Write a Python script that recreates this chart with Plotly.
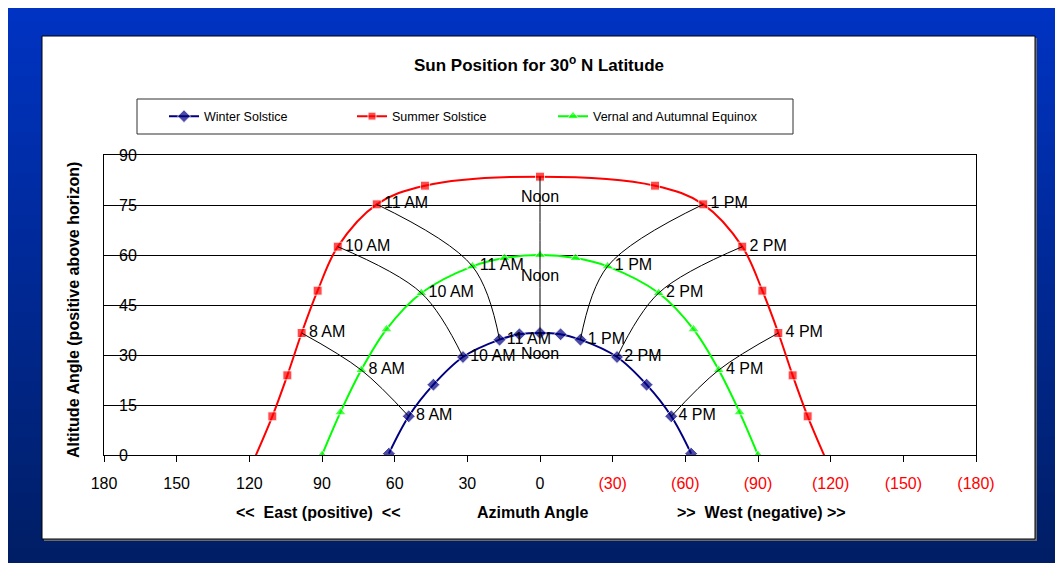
import plotly.graph_objects as go

# positions du soleil (azimut positif = est)
winter_time = ["7 AM", "8 AM", "9 AM", "10 AM", "11 AM", "11:30 AM", "Noon",
               "12:30 PM", "1 PM", "2 PM", "3 PM", "4 PM", "5 PM"]
winter_az = [62.4, 54.2, 44.0, 31.8, 16.7, 8.5, 0, -8.5, -16.7, -31.8, -44.0, -54.2, -62.4]
winter_alt = [0.4, 11.6, 21.1, 29.4, 34.6, 36.2, 36.6, 36.2, 34.6, 29.4, 21.1, 11.6, 0.4]

summer_time = ["5 AM", "6 AM", "7 AM", "8 AM", "9 AM", "10 AM", "11 AM", "11:30 AM", "Noon",
               "12:30 PM", "1 PM", "2 PM", "3 PM", "4 PM", "5 PM", "6 PM", "7 PM"]
summer_az = [117.5, 110.5, 104.3, 98.4, 91.8, 83.5, 67.4, 47.5, 0,
             -47.5, -67.4, -83.5, -91.8, -98.4, -104.3, -110.5, -117.5]
summer_alt = [-0.4, 11.6, 23.9, 36.6, 49.3, 62.5, 75.2, 80.8, 83.5,
              80.8, 75.2, 62.5, 49.3, 36.6, 23.9, 11.6, -0.4]

equinox_time = ["6 AM", "7 AM", "8 AM", "9 AM", "10 AM", "11 AM", "11:30 AM", "Noon",
                "12:30 PM", "1 PM", "2 PM", "3 PM", "4 PM", "5 PM", "6 PM"]
equinox_az = [90.0, 82.4, 73.8, 63.4, 49.0, 27.9, 14.7, 0, -14.7, -27.9, -49.0, -63.4, -73.8, -82.4, -90.0]
equinox_alt = [0, 12.8, 25.5, 37.7, 48.6, 56.6, 59.1, 60.0, 59.1, 56.6, 48.6, 37.7, 25.5, 12.8, 0]

hour_labels = ["8 AM", "10 AM", "11 AM", "Noon", "1 PM", "2 PM", "4 PM"]

x_ticks = [180, 150, 120, 90, 60, 30, 0, -30, -60, -90, -120, -150, -180]
y_ticks = [0, 15, 30, 45, 60, 75, 90]

FONT = "Liberation Sans, Arial, sans-serif"

# taille de la figure et marges (en pixels)
W, H = 1055, 555
L, R, T, B = 96, 87, 147, 108


def px_x(p):
    return (p - L) / (W - L - R)


def px_y(p):
    return (H - B - p) / (H - T - B)


series = [
    ("Winter Solstice", winter_time, winter_az, winter_alt, "#000080", "diamond", 10, "legend", 156),
    ("Summer Solstice", summer_time, summer_az, summer_alt, "#FF0000", "square", 9, "legend2", 344),
    ("Vernal and Autumnal Equinox", equinox_time, equinox_az, equinox_alt, "#00FF00", "triangle-up", 10,
     "legend3", 545),
]

fig = go.Figure()

legends = {}
for name, times, az, alt, color, symbol, size, leg, lx in series:
    sizes = [0 if a < 0 else size for a in alt]
    fig.add_trace(go.Scatter(
        x=az, y=alt, name=name, mode="lines+markers", legend=leg,
        line=dict(color=color, width=2, shape="spline"),
        marker=dict(symbol=symbol, size=sizes, color=color),
    ))
    legends[leg] = dict(x=px_x(lx), y=px_y(108.5), xanchor="left", yanchor="middle",
                        bgcolor="rgba(0,0,0,0)", borderwidth=0,
                        font=dict(family=FONT, size=12.5, color="black"))

# lignes horaires (été -> équinoxe -> hiver) avec leurs étiquettes
for h in hour_labels:
    xs, ys = [], []
    for times, az, alt in [(summer_time, summer_az, summer_alt),
                           (equinox_time, equinox_az, equinox_alt),
                           (winter_time, winter_az, winter_alt)]:
        i = times.index(h)
        xs.append(az[i])
        ys.append(alt[i])
    noon = h == "Noon"
    fig.add_trace(go.Scatter(
        x=xs, y=ys, yaxis="y2", mode="lines+markers+text",
        line=dict(color="black", width=1, shape="spline"),
        marker=dict(size=20 if noon else 10, opacity=0),
        text=[h] * len(xs), textposition="bottom center" if noon else "middle right",
        textfont=dict(family=FONT, size=16, color="black"),
        showlegend=False, hoverinfo="skip"))

# fond bleu en dégradé
n = 40
top, bottom = (0, 51, 194), (0, 30, 102)
shapes = []
for i in range(n):
    f = i / (n - 1)
    c = tuple(round(top[k] + (bottom[k] - top[k]) * f) for k in range(3))
    shapes.append(dict(type="rect", xref="paper", yref="paper", layer="below",
                       x0=px_x(-2), x1=px_x(W + 2), y0=px_y(i * H / n - 1), y1=px_y((i + 1) * H / n + 1),
                       fillcolor="rgb(%d,%d,%d)" % c, line=dict(width=0)))
# ombre + cadre blanc
shapes.append(dict(type="rect", xref="paper", yref="paper", layer="below",
                   x0=px_x(36), x1=px_x(1029), y0=px_y(30), y1=px_y(533),
                   fillcolor="#6a6a6a", line=dict(width=0)))
shapes.append(dict(type="rect", xref="paper", yref="paper", layer="below",
                   x0=px_x(34), x1=px_x(1027), y0=px_y(28), y1=px_y(531),
                   fillcolor="white", line=dict(color="black", width=1)))
# cadre de la légende
shapes.append(dict(type="rect", xref="paper", yref="paper", layer="below",
                   x0=px_x(129), x1=px_x(785), y0=px_y(91), y1=px_y(126),
                   fillcolor="white", line=dict(color="#303030", width=1)))

ticktext = [str(v) if v >= 0 else '<span style="color:red">(%d)</span>' % -v for v in x_ticks]

bold16 = dict(family=FONT, size=16, color="black")
annotations = [
    dict(text="<b>Altitude Angle (positive above horizon)</b>", textangle=-90,
         x=px_x(65), y=px_y(302)),
    dict(text="<b>&lt;&lt;&nbsp; East (positive) &nbsp;&lt;&lt;</b>", x=px_x(310), y=px_y(504)),
    dict(text="<b>Azimuth Angle</b>", x=px_x(525), y=px_y(504)),
    dict(text="<b>&gt;&gt;&nbsp; West (negative) &gt;&gt;</b>", x=px_x(753), y=px_y(504)),
]
for a in annotations:
    a.update(xref="paper", yref="paper", showarrow=False, xanchor="center", yanchor="middle", font=bold16)

fig.update_layout(
    width=W, height=H,
    margin=dict(l=L, r=R, t=T, b=B),
    paper_bgcolor="rgb(0,40,150)", plot_bgcolor="white",
    font=dict(family=FONT, color="black"),
    title=dict(text="<b>Sun Position for 30<sup>o</sup> N Latitude</b>", x=531 / W, y=1 - 57 / H,
               xanchor="center", yanchor="middle", font=dict(family=FONT, size=17, color="black")),
    shapes=shapes,
    annotations=annotations,
    showlegend=True,
    xaxis=dict(range=[180, -180], tickvals=x_ticks, ticktext=ticktext, ticks="outside", ticklen=6,
               tickcolor="black", showline=True, linecolor="black", linewidth=1, mirror=True,
               showgrid=False, zeroline=False, ticklabelstandoff=8,
               tickfont=dict(family=FONT, size=16, color="black")),
    yaxis=dict(range=[0, 90], tickvals=y_ticks, ticks="", showline=True, linecolor="black", linewidth=1,
               mirror=True, showgrid=True, gridcolor="black", gridwidth=1, zeroline=False,
               showticklabels=False),
    yaxis2=dict(range=[0, 90], tickvals=y_ticks, overlaying="y", side="right", anchor="free",
                position=px_x(104), ticks="", showline=False, showgrid=False, zeroline=False,
                ticklabelstandoff=6, tickfont=dict(family=FONT, size=16, color="black")),
    **legends,
)

fig.write_html("out.html")
